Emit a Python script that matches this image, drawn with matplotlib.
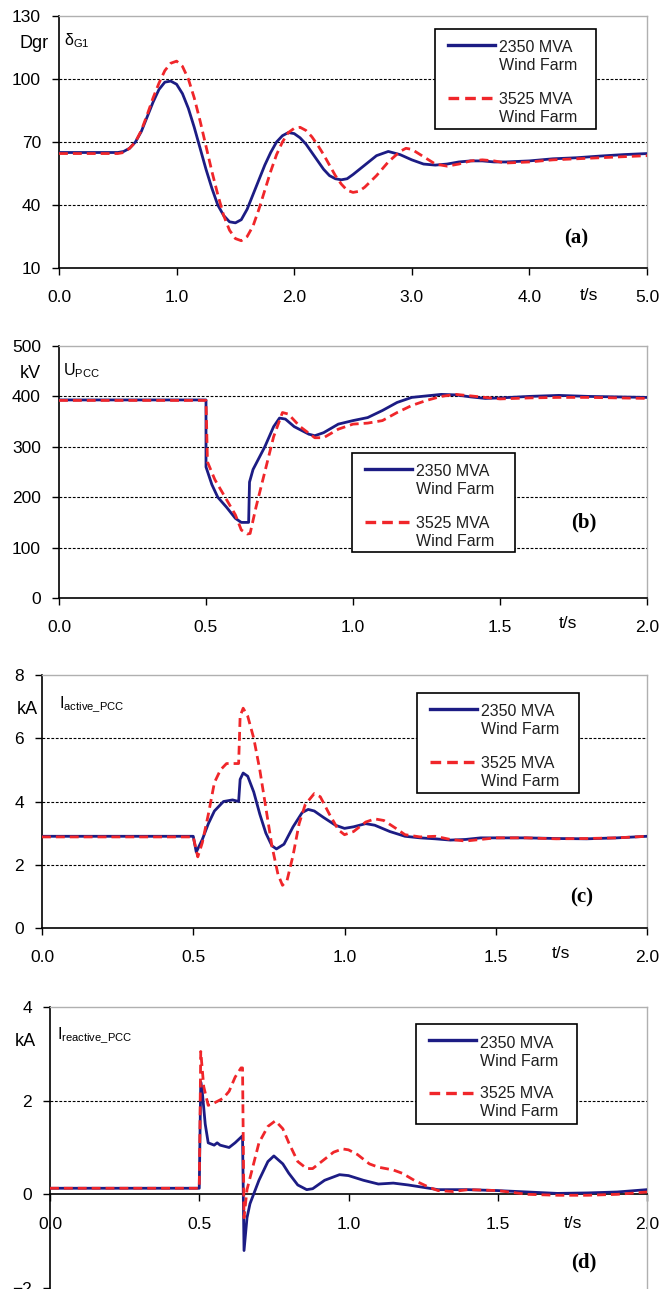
import numpy as np
import matplotlib.pyplot as plt
from matplotlib.patches import Rectangle
from matplotlib.lines import Line2D

plt.rcParams['font.family'] = ['Liberation Sans', 'DejaVu Sans']

BLUE = '#1c1c84'
RED = '#f0262a'

# ---- (a) rotor angle delta_G1, Dgr
ta_blue = [0, 0.5, 0.55, 0.6, 0.65, 0.7, 0.75, 0.8, 0.85, 0.9, 0.95, 1.0, 1.05, 1.1, 1.15, 1.2, 1.25, 1.3,
           1.35, 1.4, 1.45, 1.5, 1.55, 1.6, 1.65, 1.7, 1.75, 1.8, 1.85, 1.9, 1.95, 2.0, 2.05, 2.1, 2.15, 2.2,
           2.25, 2.3, 2.35, 2.4, 2.45, 2.5, 2.6, 2.7, 2.8, 2.9, 3.0, 3.1, 3.2, 3.3, 3.4, 3.5, 3.6, 3.7, 3.8,
           4.0, 4.2, 4.4, 4.6, 4.8, 5.0]
da_blue = [65, 65, 65.5, 67, 70, 75, 82, 89, 95, 98.5, 99, 97.5, 93, 86, 77, 67, 57, 48,
           40, 35, 32, 31.5, 33, 38, 45, 52, 59, 65, 70, 73, 74.5, 74, 72, 69, 65, 61,
           57, 54, 52.5, 52, 52.5, 54.5, 59, 63.5, 65.5, 64, 61.5, 59.5, 59, 59.5, 60.5, 61, 61, 60.5, 60.5,
           61, 62, 62.5, 63.3, 64, 64.5]
ta_red = [0, 0.5, 0.55, 0.6, 0.65, 0.7, 0.75, 0.8, 0.85, 0.9, 0.95, 1.0, 1.05, 1.1, 1.15, 1.2, 1.25, 1.3,
          1.35, 1.4, 1.45, 1.5, 1.55, 1.6, 1.65, 1.7, 1.75, 1.8, 1.85, 1.9, 1.95, 2.0, 2.05, 2.1, 2.15, 2.2,
          2.25, 2.3, 2.35, 2.4, 2.45, 2.5, 2.55, 2.6, 2.7, 2.8, 2.9, 2.95, 3.0, 3.1, 3.2, 3.3, 3.4, 3.5, 3.6,
          3.7, 3.8, 4.0, 4.2, 4.4, 4.6, 4.8, 5.0]
da_red = [64.5, 64.5, 65, 67, 70, 75.5, 83, 91, 98, 104, 107.5, 108.5, 106, 100, 91, 80, 68, 56,
          45, 35, 28, 24, 23, 25, 30, 38, 47, 56, 64, 70, 74.5, 76.5, 77, 75.5, 72.5, 68.5,
          64, 59, 54, 50, 47, 46, 46.5, 48.5, 54, 60.5, 65.5, 67, 66.5, 63, 59.5, 58.5, 59.5, 61, 61.5,
          61, 60, 60.5, 61.5, 62, 62.5, 63, 63.5]

# ---- (b) U_PCC, kV
tb_blue = [0, 0.5, 0.5, 0.52, 0.54, 0.57, 0.6, 0.62, 0.645, 0.648, 0.66, 0.7, 0.73, 0.75, 0.77, 0.8, 0.85,
           0.87, 0.9, 0.95, 1.0, 1.05, 1.1, 1.15, 1.2, 1.25, 1.3, 1.35, 1.4, 1.45, 1.5, 1.6, 1.7, 1.8, 1.9, 2.0]
ub_blue = [393, 393, 260, 225, 200, 180, 158, 150, 150, 230, 255, 300, 340, 357, 355, 340, 325,
           322, 328, 345, 352, 358, 372, 388, 398, 401, 404, 403, 399, 396, 397, 400, 402, 400, 399, 398]
tb_red = [0, 0.5, 0.505, 0.53, 0.56, 0.6, 0.62, 0.64, 0.65, 0.67, 0.7, 0.73, 0.76, 0.78, 0.82, 0.87,
          0.9, 0.95, 1.0, 1.05, 1.1, 1.15, 1.2, 1.25, 1.3, 1.35, 1.4, 1.45, 1.5, 1.6, 1.7, 1.8, 1.9, 2.0]
ub_red = [392, 392, 270, 235, 205, 165, 135, 127, 128, 180, 250, 320, 368, 365, 340, 318,
          318, 335, 345, 347, 352, 368, 382, 392, 400, 404, 401, 398, 395, 397, 398, 398, 397, 396]

# ---- (c) I_active_PCC, kA
tc_blue = [0, 0.5, 0.51, 0.53, 0.55, 0.57, 0.6, 0.63, 0.65, 0.655, 0.665, 0.68, 0.7, 0.72, 0.74, 0.76,
           0.775, 0.8, 0.83, 0.86, 0.88, 0.9, 0.93, 0.97, 1.0, 1.03, 1.07, 1.1, 1.15, 1.2, 1.25, 1.3,
           1.35, 1.4, 1.45, 1.5, 1.6, 1.7, 1.8, 1.9, 2.0]
ic_blue = [2.9, 2.9, 2.4, 2.8, 3.3, 3.7, 4.0, 4.05, 4.0, 4.7, 4.9, 4.8, 4.3, 3.6, 3.0, 2.6,
           2.5, 2.65, 3.2, 3.65, 3.75, 3.7, 3.5, 3.25, 3.15, 3.2, 3.3, 3.25, 3.05, 2.9, 2.85, 2.82,
           2.78, 2.8, 2.85, 2.85, 2.85, 2.83, 2.82, 2.85, 2.9]
tc_red = [0, 0.5, 0.515, 0.53, 0.55, 0.57, 0.59, 0.61, 0.64, 0.65, 0.655, 0.665, 0.68, 0.7, 0.72, 0.74,
          0.76, 0.78, 0.795, 0.81, 0.83, 0.85, 0.87, 0.9, 0.92, 0.95, 0.98, 1.0, 1.03, 1.07, 1.1, 1.13,
          1.17, 1.2, 1.25, 1.3, 1.35, 1.4, 1.45, 1.5, 1.6, 1.7, 1.8, 1.9, 2.0]
ic_red = [2.88, 2.88, 2.25, 2.7, 3.6, 4.6, 5.0, 5.2, 5.2, 5.2, 6.7, 6.95, 6.7, 6.0, 5.0, 3.8,
          2.6, 1.7, 1.35, 1.5, 2.3, 3.3, 3.9, 4.25, 4.15, 3.6, 3.1, 2.95, 3.05, 3.35, 3.45, 3.4,
          3.15, 2.95, 2.88, 2.9, 2.8, 2.75, 2.8, 2.85, 2.85, 2.82, 2.83, 2.85, 2.9]

# ---- (d) I_reactive_PCC, kA
td_blue = [0, 0.5, 0.505, 0.51, 0.52, 0.53, 0.55, 0.56, 0.57, 0.6, 0.62, 0.645, 0.65, 0.66, 0.67, 0.7,
           0.73, 0.75, 0.78, 0.8, 0.83, 0.86, 0.88, 0.92, 0.97, 1.0, 1.05, 1.1, 1.15, 1.2, 1.25, 1.3,
           1.35, 1.4, 1.5, 1.6, 1.7, 1.8, 1.9, 2.0]
id_blue = [0.13, 0.13, 2.4, 2.2, 1.5, 1.1, 1.05, 1.1, 1.05, 1.0, 1.1, 1.25, -1.2, -0.5, -0.2, 0.3,
           0.7, 0.82, 0.65, 0.45, 0.2, 0.1, 0.12, 0.3, 0.42, 0.4, 0.3, 0.22, 0.24, 0.2, 0.15, 0.1,
           0.1, 0.1, 0.08, 0.05, 0.02, 0.03, 0.05, 0.1]
td_red = [0, 0.5, 0.505, 0.515, 0.53, 0.55, 0.58, 0.6, 0.62, 0.64, 0.645, 0.65, 0.66, 0.68, 0.7, 0.73,
          0.755, 0.78, 0.8, 0.83, 0.86, 0.88, 0.92, 0.95, 0.98, 1.0, 1.03, 1.07, 1.1, 1.15, 1.18, 1.22,
          1.27, 1.3, 1.35, 1.4, 1.5, 1.6, 1.7, 1.8, 1.9, 2.0]
id_red = [0.13, 0.13, 3.05, 2.3, 1.9, 1.95, 2.05, 2.2, 2.5, 2.7, 2.7, -0.5, 0.1, 0.6, 1.1, 1.45,
          1.57, 1.4, 1.1, 0.7, 0.55, 0.55, 0.75, 0.9, 0.97, 0.95, 0.85, 0.65, 0.58, 0.52, 0.45, 0.3,
          0.15, 0.08, 0.06, 0.1, 0.08, 0.0, -0.02, -0.02, 0.0, 0.05]

labels = ['2350 MVA', 'Wind Farm', '3525 MVA', 'Wind Farm']

W, H = 662, 1289
fig = plt.figure(figsize=(W / 100, H / 100), dpi=100)

LW = 2.0
DASH = (0, (3.2, 1.8))


def px_axes(l, t, r, b):
    return fig.add_axes([l / W, 1 - b / H, (r - l) / W, (b - t) / H])


def style(ax, xlim, ylim, yticks, xticks, grid_vals):
    ax.set_xlim(*xlim)
    ax.set_ylim(*ylim)
    ax.set_yticks(yticks)
    ax.set_xticks(xticks)
    ax.set_xticklabels(['%.1f' % v for v in xticks])
    for g in grid_vals:
        ax.axhline(g, color='black', lw=0.8, ls=(0, (2.5, 1.5)), zorder=1)
    for s in ['top', 'right']:
        ax.spines[s].set_color('#b0b0b0')
        ax.spines[s].set_linewidth(1.0)
    ax.spines['left'].set_linewidth(1.2)
    ax.spines['bottom'].set_linewidth(1.2)
    ax.tick_params(axis='both', labelsize=12.5, direction='out', length=5, width=1.0)
    ax.tick_params(axis='x', pad=11)
    ax.tick_params(axis='y', pad=8)


# overlay in pixel coordinates for the legend boxes
ov = fig.add_axes([0, 0, 1, 1], zorder=10)
ov.set_xlim(0, W)
ov.set_ylim(H, 0)
ov.axis('off')
ov.patch.set_alpha(0)


def legend_box(x0, y0, w=161, h=100):
    ov.add_patch(Rectangle((x0, y0), w, h, facecolor='white', edgecolor='black', lw=1.2))
    ov.add_line(Line2D([x0 + 13, x0 + 60], [y0 + 16, y0 + 16], color=BLUE, lw=LW + 0.4))
    ov.add_line(Line2D([x0 + 13, x0 + 60], [y0 + 69, y0 + 69], color=RED, lw=LW + 0.4, ls=DASH))
    for dy, s in zip([19, 37, 70, 88], labels):
        ov.text(x0 + 64, y0 + dy, s, fontsize=11.5, ha='left', va='center', color='#202020')


def panel_label(x, y, s):
    ov.text(x, y, s, fontsize=15, fontweight='bold', family='Liberation Serif', ha='center', va='center')


# (a)
ax = px_axes(59, 16, 647, 268)
ax.plot(ta_blue, da_blue, color=BLUE, lw=LW, zorder=3)
ax.plot(ta_red, da_red, color=RED, lw=LW, ls=DASH, zorder=4)
style(ax, (0, 5), (10, 130), [10, 40, 70, 100, 130], [0, 1, 2, 3, 4, 5], [40, 70, 100])
legend_box(435, 29)
ov.text(34, 44, 'Dgr', fontsize=13, ha='center', va='center')
ov.text(64, 41, r'$\mathregular{\delta_{G1}}$', fontsize=11.5, ha='left', va='center')
panel_label(576, 238, '(a)')
ov.text(589, 295, 't/s', fontsize=12.5, ha='center', va='center')

# (b)
ax = px_axes(59, 346, 647, 598)
ax.plot(tb_blue, ub_blue, color=BLUE, lw=LW, zorder=3)
ax.plot(tb_red, ub_red, color=RED, lw=LW, ls=DASH, zorder=4)
style(ax, (0, 2), (0, 500), [0, 100, 200, 300, 400, 500], [0, 0.5, 1, 1.5, 2], [100, 200, 300, 400])
legend_box(352, 453, 163, 99)
ov.text(30, 373, 'kV', fontsize=13, ha='center', va='center')
ov.text(63, 371, r'$\mathregular{U_{PCC}}$', fontsize=11.5, ha='left', va='center')
panel_label(584, 522, '(b)')
ov.text(568, 624, 't/s', fontsize=12.5, ha='center', va='center')

# (c)
ax = px_axes(42, 675, 647, 928)
ax.plot(tc_blue, ic_blue, color=BLUE, lw=LW, zorder=3)
ax.plot(tc_red, ic_red, color=RED, lw=LW, ls=DASH, zorder=4)
style(ax, (0, 2), (0, 8), [0, 2, 4, 6, 8], [0, 0.5, 1, 1.5, 2], [2, 4, 6])
legend_box(417, 693, 162, 100)
ov.text(27, 709, 'kA', fontsize=13, ha='center', va='center')
ov.text(59, 704, r'$\mathregular{I_{active\_PCC}}$', fontsize=11.5, ha='left', va='center')
panel_label(582, 897, '(c)')
ov.text(561, 953, 't/s', fontsize=12.5, ha='center', va='center')

# (d)
ax = px_axes(50, 1007, 647, 1288)
ax.plot(td_blue, id_blue, color=BLUE, lw=LW, zorder=3)
ax.plot(td_red, id_red, color=RED, lw=LW, ls=DASH, zorder=4)
style(ax, (0, 2), (-2, 4), [-2, 0, 2, 4], [0, 0.5, 1, 1.5, 2], [2])
ax.spines['bottom'].set_position(('data', 0))
ax.tick_params(axis='x', pad=11)
legend_box(416, 1024, 161, 100)
ov.text(25, 1041, 'kA', fontsize=13, ha='center', va='center')
ov.text(57, 1035, r'$\mathregular{I_{reactive\_PCC}}$', fontsize=11.5, ha='left', va='center')
panel_label(584, 1262, '(d)')
ov.text(573, 1223, 't/s', fontsize=12.5, ha='center', va='center')

fig.savefig('out.png', dpi=100)
